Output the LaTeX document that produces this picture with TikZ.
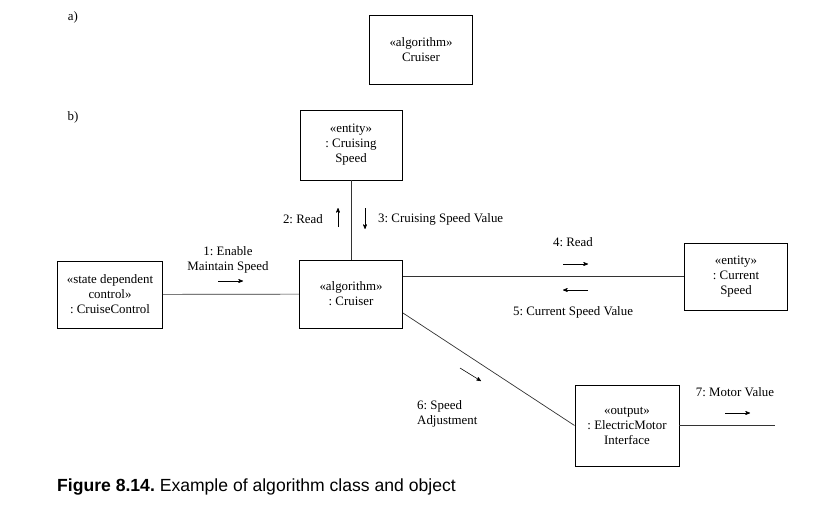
\documentclass[tikz,border=0pt]{standalone}
\usepackage{fontspec}
\setmainfont{Liberation Serif}
\newfontfamily\captionfont{Liberation Sans}
\usepackage{tikz}
\usetikzlibrary{arrows}
\usetikzlibrary{positioning}
\frenchspacing

\begin{document}
\begin{tikzpicture}[x=0.03cm, y=-0.03cm,
		objbox/.style={draw, line width=0.8pt, align=center, inner sep=0pt,
			font=\fontsize{11}{12.8}\selectfont},
		link/.style={draw, line width=0.6pt, color=black!80},
		msgarrow/.style={->, >=stealth', line width=0.5pt},
		msglabel/.style={inner sep=0pt, align=center, font=\fontsize{11}{12.8}\selectfont}]
	\useasboundingbox (0,0) rectangle (835,507);

	% part a)
	\node[msglabel] (labelA) at (73,17) {a)};
	\node[objbox, minimum width=3.09cm, minimum height=2.07cm] (classCruiser) at (421,50)
		{\guillemotleft algorithm\guillemotright\\Cruiser};

	% part b)
	\node[msglabel] (labelB) at (73,117) {b)};
	\node[objbox, minimum width=3.06cm, minimum height=2.1cm] (cruisingSpeed) at (351,145)
		{\guillemotleft entity\guillemotright\\: Cruising\\Speed};
	\node[objbox, minimum width=3.09cm, minimum height=2.04cm] (cruiser) at (351,294)
		{\guillemotleft algorithm\guillemotright\\: Cruiser};
	\node[objbox, minimum width=3.15cm, minimum height=2.01cm] (cruiseControl) at (110,294.5)
		{\guillemotleft state dependent\\control\guillemotright\\: CruiseControl};
	\node[objbox, minimum width=3.09cm, minimum height=2.01cm] (currentSpeed) at (736,276.5)
		{\guillemotleft entity\guillemotright\\: Current\\Speed};
	\node[objbox, minimum width=3.12cm, minimum height=2.43cm] (motorIF) at (627,425.5)
		{\guillemotleft output\guillemotright\\: ElectricMotor\\Interface};
	\coordinate (motorEnd) at (775,425.5);

	% links
	\draw[link] (cruisingSpeed) -- (cruiser);
	\draw[link] (cruiseControl) -- (cruiser);
	\draw[link] (cruiser.east |- currentSpeed.west) -- (currentSpeed.west);
	\draw[link] ([yshift=-0.57cm]cruiser.east) -- (motorIF.west);
	\draw[link] (motorIF.east) -- (motorEnd);

	% messages
	\node[msglabel, anchor=east] (msgRead) at (323,219) {2: Read};
	\draw[msgarrow] (338,227) -- (338,208);
	\draw[msgarrow] (365,208) -- (365,229);
	\node[msglabel, anchor=west] (msgCruisingValue) at (378,219) {3: Cruising Speed Value};

	\node[msglabel] (msgEnable) at (228,260) {1: Enable\\Maintain Speed};
	\draw[msgarrow] (218,281) -- (243,281);

	\node[msglabel] (msgReadCurrent) at (573,242) {4: Read};
	\draw[msgarrow] (563,264) -- (588,264);
	\draw[msgarrow] (588,290) -- (563,290);
	\node[msglabel] (msgCurrentValue) at (573,312) {5: Current Speed Value};

	\draw[msgarrow] (460,368) -- (481,381);
	\node[msglabel, anchor=west, align=left] (msgAdjust) at (417,414) {6: Speed\\Adjustment};

	\node[msglabel] (msgMotor) at (735,392) {7: Motor Value};
	\draw[msgarrow] (725,413) -- (750,413);

	% caption
	\node[anchor=west, inner sep=0pt, font=\captionfont\fontsize{15}{17}\selectfont] (caption) at (57,487)
		{\textbf{Figure 8.14.} Example of algorithm class and object};
\end{tikzpicture}
\end{document}
